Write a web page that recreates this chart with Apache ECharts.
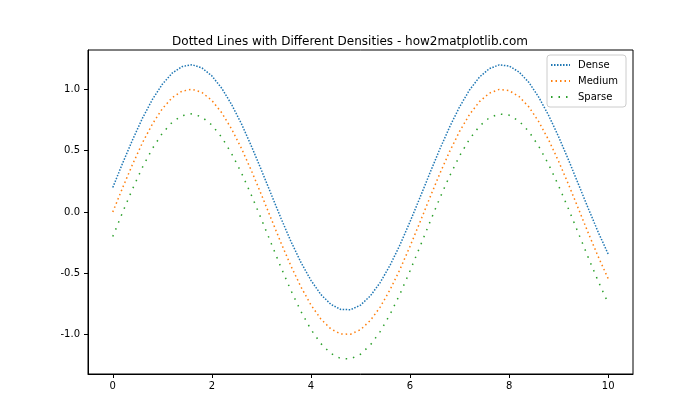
<!DOCTYPE html>
<html><head><meta charset="utf-8">
<script src="https://cdn.jsdelivr.net/npm/echarts@6/dist/echarts.min.js"></script>
<style>html,body{margin:0;padding:0;background:#fff}#c{width:700px;height:420px}</style>
</head><body><div id="c"></div>
<script>
const xValues = [0,0.2,0.4,0.6,0.8,1.0,1.2,1.4,1.6,1.8,2.0,2.2,2.4,2.6,2.8,3.0,3.2,3.4,3.6,3.8,4.0,4.2,4.4,4.6,4.8,5.0,5.2,5.4,5.6,5.8,6.0,6.2,6.4,6.6,6.8,7.0,7.2,7.4,7.6,7.8,8.0,8.2,8.4,8.6,8.8,9.0,9.2,9.4,9.6,9.8,10.0];
const dense = [0.200,0.399,0.589,0.765,0.917,1.041,1.132,1.185,1.200,1.174,1.109,1.008,0.875,0.716,0.535,0.341,0.142,-0.056,-0.243,-0.412,-0.557,-0.672,-0.752,-0.794,-0.796,-0.759,-0.683,-0.573,-0.431,-0.265,-0.079,0.117,0.317,0.512,0.694,0.857,0.994,1.099,1.168,1.199,1.189,1.141,1.055,0.934,0.785,0.612,0.423,0.225,0.026,-0.166,-0.344];
const medium = [0.000,0.199,0.389,0.565,0.717,0.841,0.932,0.985,1.000,0.974,0.909,0.808,0.675,0.516,0.335,0.141,-0.058,-0.256,-0.443,-0.612,-0.757,-0.872,-0.952,-0.994,-0.996,-0.959,-0.883,-0.773,-0.631,-0.465,-0.279,-0.083,0.117,0.312,0.494,0.657,0.794,0.899,0.968,0.999,0.989,0.941,0.855,0.734,0.585,0.412,0.223,0.025,-0.174,-0.366,-0.544];
const sparse = [-0.200,-0.001,0.189,0.365,0.517,0.641,0.732,0.785,0.800,0.774,0.709,0.608,0.475,0.316,0.135,-0.059,-0.258,-0.456,-0.643,-0.812,-0.957,-1.072,-1.152,-1.194,-1.196,-1.159,-1.083,-0.973,-0.831,-0.665,-0.479,-0.283,-0.083,0.112,0.294,0.457,0.594,0.699,0.768,0.799,0.789,0.741,0.655,0.534,0.385,0.212,0.023,-0.175,-0.374,-0.566,-0.744];
const seriesNames = ['Dense','Medium','Sparse'];
const xTicks = [0,2,4,6,8,10];
const yTicks = [-1.0,-0.5,0.0,0.5,1.0];

const chart = echarts.init(document.getElementById('c'));
const font = 'DejaVu Sans';
function mk(name, vals, color, dash){
  return {name, type:'line', data: xValues.map((x,i)=>[x, vals[i]]), showSymbol:false, symbol:'none',
    lineStyle:{color, width:1.5, type:dash, cap:'butt'}, itemStyle:{color}, animation:false};
}
chart.setOption({
  animation:false,
  title:{text:'Dotted Lines with Different Densities - how2matplotlib.com', left:'center', top:31,
    textStyle:{fontFamily:font, fontSize:12, fontWeight:'normal', color:'#000'}},
  legend:{right:74, top:55, orient:'vertical', itemWidth:19, itemHeight:8, itemGap:6,
    backgroundColor:'#fff', borderColor:'#ccc', borderWidth:1, borderRadius:3, padding:[5,8,5,3],
    itemStyle:{opacity:0},
    textStyle:{fontFamily:font, fontSize:10, color:'#000', padding:[0,0,0,3]},
    data: seriesNames},
  grid:{left:88, right:67, top:50, bottom:46},
  xAxis:{type:'value', min:-0.5, max:10.5,
    axisLine:{show:true, onZero:false, lineStyle:{color:'#000', width:1}},
    axisTick:{show:true, customValues:xTicks, length:4, lineStyle:{color:'#000'}},
    axisLabel:{customValues:xTicks, fontFamily:font, fontSize:10, color:'#000', margin:7},
    splitLine:{show:false}},
  yAxis:{type:'value', min:-1.32, max:1.32,
    axisLine:{show:true, onZero:false, lineStyle:{color:'#000', width:1}},
    axisTick:{show:true, customValues:yTicks, length:4, lineStyle:{color:'#000'}},
    axisLabel:{customValues:yTicks, fontFamily:font, fontSize:10, color:'#000', margin:8, formatter:v=>v.toFixed(1)},
    splitLine:{show:false}},
  graphic:[{type:'rect', shape:{x:88, y:50, width:545, height:324}, style:{fill:'none', stroke:'#000', lineWidth:1}, silent:true, z:-1}],
  series:[
    mk('Dense', dense, '#1f77b4', [1.5,1.5]),
    mk('Medium', medium, '#ff7f0e', [1.5,3]),
    mk('Sparse', sparse, '#2ca02c', [1.5,6])
  ]
});
</script></body></html>
